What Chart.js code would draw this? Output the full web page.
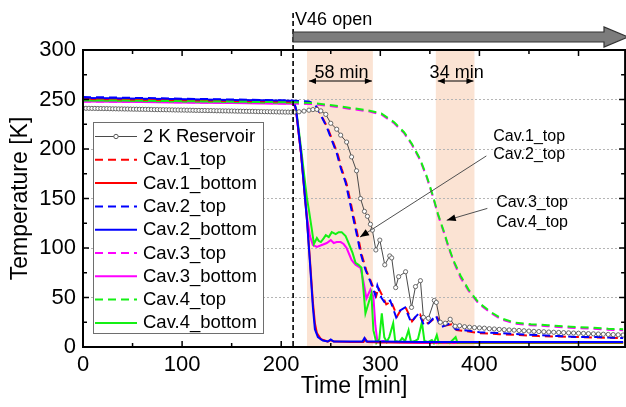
<!DOCTYPE html>
<html><head><meta charset="utf-8">
<script src="https://cdn.jsdelivr.net/npm/chart.js@4.4.1/dist/chart.umd.min.js"></script>
<style>html,body{margin:0;padding:0;overflow:hidden;background:#fff}canvas{display:block}</style>
</head><body>
<canvas id="c" width="630" height="407"></canvas>
<script>
const FAM = '"Liberation Sans", Arial, Helvetica, sans-serif';

// ---------------- data ----------------
const resTimes = [0,3,6,9,12,15,18,21,24,27,30,33,36,39,42,45,48,51,54,57,60,63,66,69,72,75,78,81,84,87,90,
  93,96,99,102,105,108,111,114,117,120,123,126,129,132,135,138,141,144,147,150,153,156,159,162,165,168,171,174,177,180,
  183,186,189,192,195,198,201,204,207,210,
  213,218,223,228,232,236,240,245,250,256,260,266,271,276,280,284,287,290,292,295.5,299.5,304.5,309.5,311.5,315.5,318.5,
  325.5,331.5,335.5,340.5,343.5,348.5,354.5,356.5,360.5,365.5,370.5,375.5,380,385,390,395,400,405,410,415,420,425,430,435,
  440,445,450,455,460,465,470,475,480,485,490,495,500,505,510,515,520,525,530,535,540,545];
const resValues = [241.2,241.1,241.1,241.0,241.0,240.9,240.9,240.8,240.8,240.7,240.6,
  240.6,240.5,240.5,240.4,240.4,240.3,240.2,240.2,240.1,240.1,
  240.0,240.0,239.9,239.8,239.8,239.7,239.7,239.6,239.6,239.5,
  239.4,239.4,239.3,239.3,239.2,239.2,239.1,239.0,239.0,238.9,
  238.9,238.8,238.8,238.7,238.6,238.6,238.5,238.5,238.4,238.4,
  238.3,238.2,238.2,238.1,238.1,238.0,238.0,237.9,237.8,237.8,
  237.7,237.7,237.6,237.6,237.5,237.4,237.4,237.3,237.3,237.2,
  237.2,237.6,238.3,239.2,239.8,240,238.5,235,226,220,214,207,192,178,150,137,132,124,118,98,108,83,92,90,60,71,
  76,40,61,67,30,29,47,45,25,24,28,21,21.5,20.5,20,19.6,19.3,19,18.5,18.2,17.8,17.5,17.2,17,
  16.7,16.4,16.1,15.8,15.6,15.4,15.1,14.9,14.7,14.5,14.3,14.1,13.9,13.7,13.5,13.3,13.1,12.9,12.7,12.5,12.3,12.1];

const c1TopTimes = [0,30,60,90,120,150,180,210,220,228,233,237,241,247,252,257,261,266,269,272,275,278,281,286,291,294,296,298,302,306,311,317,321,326,332,336,340,345,350,357,362,367,372,377,386,400,420,440,460,480,500,520,545];
const c1TopValues = [250,249.8,249.5,249,248.5,248,247.5,247,246.5,246,245,241,233,221,208,195,180,165,151,137,123,109,94,77,65,57,52,60,52,43,46,31,38,39,26,31,33,23,25,31,21,22,23,17,16,14,13,12,11,10.5,10,9.5,9];

const c1BotTimes = [0,30,60,90,120,150,180,210,213,215,220,226,229,232,234,236,240,247,250,253,270,283,285,287,300,340,400,460,545];
const c1BotValues = [250.5,250.2,249.8,249.4,249,248.6,248.2,247.8,247,239,195,128,88,45,24,14,8,5.5,7,5.5,5,5,8,5,4.5,4.5,4.5,4.5,4.5];

const c2TopTimes = [0,30,60,90,120,150,180,210,220,228,233,236,240,246,251,256,260,265,268,271,274,277,280,285,290,293,295,297,301,305,310,316,320,325,331,335,339,344,349,356,361,366,371,376,385,400,420,440,460,480,500,520,545];
const c2TopValues = [252.5,252,251.5,251,250.5,250,249.5,249,248.5,248,246,242,234,222,209,196,181,166,152,138,124,110,95,78,66,58,52,62,50,44,47,30,37,40,25,30,34,22,24,32,20,22,24,18,17,15,14,13,12,11,10,10,9];

const c2BotTimes = [0,30,60,90,120,150,180,210,213,215,220,226,229,232,234,237,242,247,250,253,270,282,284,286,300,340,400,460,545];
const c2BotValues = [251.5,251.2,250.8,250.4,250,249.6,249.2,248.8,248,240,196,128,85,40,18,10,6.5,5.5,7.5,5.5,5.5,5.5,9,5.5,5.5,5,5,5,5];

const c3TopTimes = [0,60,120,180,210,230,253,270,288,301,314,324,332,340,347,353,358,364,369,374,381,389,399,412,422,436,452,469,492,513,530,545];
const c3TopValues = [248,247.7,247,246.4,246,245.5,243,240.5,238,235,226,216,204,189,171,152,134,116,100,86,70,57,44,34,28,23.5,22,21,19.5,18.5,17.5,17];

const c3BotTimes = [0,30,60,90,120,150,180,210,213,215,220,226,229,232,236,241,246,250,253,256,260,263,266,271,275,280,283,286,290,293,295,297,300,303,310,320,340,400,545];
const c3BotValues = [248,247.7,247.4,247,246.7,246.4,246,245.7,245,238,196,132,112,103,101,103,105,108,105,106,106,104,100,88,83,80,66,49,58,51,22,6,5,6,5,4.5,4,4,4];

const c4TopTimes = [0,30,60,90,120,150,180,210,230,253,270,288,301,314,324,332,340,347,353,358,364,369,374,381,389,399,412,422,436,452,469,492,513,530,545];
const c4TopValues = [249,249,248.7,248.4,248.1,247.8,247.5,247.2,246.5,244,241.5,239,236,227,217,205,190,172,153,135,117,101,87,72,58,45,35,29,24.5,23,22,20.5,19.5,18.5,18];

const c4BotTimes = [0,30,60,90,120,150,180,210,213,215,220,226,228,231,233,236,238,240,243,245,248,251,255,258,261,265,268,272,275,278,281,283,285,288,291,293,296,299,301.5,304,306.5,309,313,315,319,322,325,328.5,331,335,338,342,344.5,348,352,354,357,359,365,370,376,378,400,450,500,545];
const c4BotValues = [249,248.7,248.4,248,247.7,247.4,247,246.7,246,241,201,150,138,118,104,110,107,106,110,113,111,116,114,116,116,112,105,95,85,83,80,58,34,44,54,17,4,8,34,10,5,10,24,6,5,9,6,17,5,6,8,25,6,5,7,4,12,4,5,4,10,4,4,4,4,4];

const seriesLabels = ['2 K Reservoir','Cav.1_top','Cav.1_bottom','Cav.2_top','Cav.2_bottom','Cav.3_top','Cav.3_bottom','Cav.4_top','Cav.4_bottom'];

const xTickValues = [0,100,200,300,400,500];
const xMinorTicks = [50,150,250,350,450];
const yMinorTicks = [25,75,125,175,225,275];

// shaded intervals and markers (minutes)
const bandStart = [226, 356];
const bandEnd = [292.5, 395];
const bandLabels = ['58 min', '34 min'];
const valveTime = 212;

// ---------------- build ----------------
const pts = (ts, vs) => ts.map((t, i) => ({x: t, y: vs[i]}));
const RED = '#ff0000', BLUE = '#0000ff', MAG = '#ff00ff', GRN = '#14f014';
const DASH = [8, 5];
function line(label, ts, vs, color, dashed, order) {
  return {label, data: pts(ts, vs), borderColor: color, backgroundColor: color, borderWidth: 2,
    borderDash: dashed ? DASH : [], pointRadius: 0, fill: false, order};
}
const datasets = [
  {label: seriesLabels[0], data: pts(resTimes, resValues), borderColor: '#4a4a4a', borderWidth: 1,
   pointRadius: 2.1, pointBackgroundColor: '#fff', pointBorderColor: '#5a5a5a', pointBorderWidth: 0.9, fill: false, order: 0},
  line(seriesLabels[1], c1TopTimes, c1TopValues, RED, true, 4),
  line(seriesLabels[2], c1BotTimes, c1BotValues, RED, false, 6),
  line(seriesLabels[3], c2TopTimes, c2TopValues, BLUE, true, 3),
  line(seriesLabels[4], c2BotTimes, c2BotValues, BLUE, false, 5),
  line(seriesLabels[5], c3TopTimes, c3TopValues, MAG, true, 2),
  line(seriesLabels[6], c3BotTimes, c3BotValues, MAG, false, 8),
  line(seriesLabels[7], c4TopTimes, c4TopValues, GRN, true, 1),
  line(seriesLabels[8], c4BotTimes, c4BotValues, GRN, false, 7),
];

function arrowHead(ctx, x1, y1, x2, y2, len, half) {
  const a = Math.atan2(y2 - y1, x2 - x1);
  ctx.beginPath();
  ctx.moveTo(x2, y2);
  ctx.lineTo(x2 - len * Math.cos(a) + half * Math.sin(a), y2 - len * Math.sin(a) - half * Math.cos(a));
  ctx.lineTo(x2 - len * Math.cos(a) - half * Math.sin(a), y2 - len * Math.sin(a) + half * Math.cos(a));
  ctx.closePath();
  ctx.fill();
}

const deco = {
  id: 'deco',
  beforeDraw(chart) {
    const {ctx, chartArea: a, scales: {x}} = chart;
    ctx.save();
    ctx.fillStyle = '#fff';
    ctx.fillRect(0, 0, chart.width, chart.height);
    ctx.fillStyle = '#fbe3d3';
    for (let i = 0; i < bandStart.length; i++) {
      const x0 = x.getPixelForValue(bandStart[i]), x1 = x.getPixelForValue(bandEnd[i]);
      ctx.fillRect(x0, a.top, x1 - x0, a.bottom - a.top);
    }
    ctx.restore();
  },
  afterDatasetsDraw(chart) {
    const {ctx, chartArea: a, scales: {x, y}} = chart;
    ctx.save();
    // valve line
    const vx = x.getPixelForValue(valveTime);
    ctx.strokeStyle = '#000'; ctx.lineWidth = 1.6; ctx.setLineDash([5, 3]);
    ctx.beginPath(); ctx.moveTo(vx, 13); ctx.lineTo(vx, a.bottom); ctx.stroke();
    ctx.setLineDash([]);

    // frame
    ctx.lineWidth = 2; ctx.strokeStyle = '#000';
    ctx.strokeRect(a.left, a.top, a.right - a.left, a.bottom - a.top);
    ctx.lineWidth = 1.5;
    ctx.beginPath();
    const xt = [...xTickValues.map(v => [v, 6]), ...xMinorTicks.map(v => [v, 4])];
    xt.forEach(([v, l]) => { const p = x.getPixelForValue(v);
      ctx.moveTo(p, a.bottom); ctx.lineTo(p, a.bottom - l);
      ctx.moveTo(p, a.top); ctx.lineTo(p, a.top + l); });
    const yt = [...y.ticks.map(t => [t.value, 6]), ...yMinorTicks.map(v => [v, 4])];
    yt.forEach(([v, l]) => { const p = y.getPixelForValue(v);
      ctx.moveTo(a.left, p); ctx.lineTo(a.left + l, p);
      ctx.moveTo(a.right, p); ctx.lineTo(a.right - l, p); });
    ctx.stroke();

    // valve arrow
    const ay = 37, x1 = vx, x2 = 628, hx = 604;
    ctx.fillStyle = '#7c7c7c'; ctx.strokeStyle = '#333'; ctx.lineWidth = 1.2;
    ctx.beginPath();
    ctx.moveTo(x1, ay - 5); ctx.lineTo(hx, ay - 5); ctx.lineTo(hx, ay - 10); ctx.lineTo(x2, ay);
    ctx.lineTo(hx, ay + 10); ctx.lineTo(hx, ay + 5); ctx.lineTo(x1, ay + 5); ctx.closePath();
    ctx.fill(); ctx.stroke();
    ctx.fillStyle = '#000';
    ctx.font = '18px ' + FAM; ctx.textBaseline = 'alphabetic'; ctx.textAlign = 'left';
    ctx.fillText('V46 open', vx + 2, 25);

    // interval arrows
    ctx.strokeStyle = '#000'; ctx.lineWidth = 1;
    for (let i = 0; i < bandStart.length; i++) {
      const b0 = x.getPixelForValue(bandStart[i]) + 2, b1 = x.getPixelForValue(bandEnd[i]) - 1;
      const yy = a.top + 31;
      ctx.beginPath(); ctx.moveTo(b0, yy); ctx.lineTo(b1, yy); ctx.stroke();
      arrowHead(ctx, b1, yy, b0, yy, 7, 3);
      arrowHead(ctx, b0, yy, b1, yy, 7, 3);
      ctx.textAlign = 'center'; ctx.font = '18px ' + FAM;
      ctx.fillText(bandLabels[i], (b0 + b1) / 2 + 1, a.top + 28);
    }

    // callouts
    ctx.font = '16px ' + FAM; ctx.textAlign = 'left'; ctx.textBaseline = 'middle';
    ctx.strokeStyle = '#505050'; ctx.fillStyle = '#000';
    const callouts = [
      {from: [407, 193], to: [279.5, 111], text: ['Cav.1_top', 'Cav.2_top'], tx: 414, ty: [213, 194]},
      {from: [408, 140], to: [367, 128], text: ['Cav.3_top', 'Cav.4_top'], tx: 417, ty: [145.5, 126]},
    ];
    callouts.forEach(cl => {
      const fx = x.getPixelForValue(cl.from[0]), fy = y.getPixelForValue(cl.from[1]);
      const tx = x.getPixelForValue(cl.to[0]), ty = y.getPixelForValue(cl.to[1]);
      ctx.beginPath(); ctx.moveTo(fx, fy); ctx.lineTo(tx, ty); ctx.stroke();
      arrowHead(ctx, fx, fy, tx, ty, 9, 3.5);
      cl.text.forEach((t, i) => ctx.fillText(t, x.getPixelForValue(cl.tx), y.getPixelForValue(cl.ty[i])));
    });
    ctx.restore();
  },
  afterDraw(chart) {
    const {ctx, chartArea: a} = chart;
    ctx.save();
    const lx = a.left + 10, ly = a.top + 72, lw = 170, lh = 211;
    ctx.fillStyle = '#fff'; ctx.fillRect(lx, ly, lw, lh);
    ctx.strokeStyle = '#6e6e6e'; ctx.lineWidth = 1;
    ctx.strokeRect(lx + 0.5, ly + 0.5, lw, lh);
    ctx.font = '18.5px ' + FAM; ctx.textBaseline = 'middle'; ctx.textAlign = 'left';
    chart.data.datasets.forEach((ds, i) => {
      const yy = ly + 14.5 + i * 23.3;
      const s0 = lx + 2, s1 = lx + 44;
      ctx.strokeStyle = ds.borderColor; ctx.lineWidth = ds.borderWidth;
      ctx.setLineDash(ds.borderDash || []);
      ctx.beginPath(); ctx.moveTo(s0, yy); ctx.lineTo(s1, yy); ctx.stroke();
      ctx.setLineDash([]);
      if (ds.pointRadius) {
        ctx.beginPath(); ctx.arc((s0 + s1) / 2, yy, 2.2, 0, Math.PI * 2);
        ctx.fillStyle = '#fff'; ctx.fill(); ctx.strokeStyle = ds.pointBorderColor; ctx.stroke();
      }
      ctx.fillStyle = '#000';
      ctx.fillText(ds.label, lx + 50, yy + 0.5);
    });
    ctx.restore();
  }
};

new Chart(document.getElementById('c'), {
  type: 'line',
  data: {datasets},
  options: {
    responsive: false, animation: false, devicePixelRatio: 1,
    layout: {padding: {top: 50, right: 3, left: 0, bottom: 0}},
    plugins: {legend: {display: false}, tooltip: {enabled: false}},
    elements: {line: {tension: 0}},
    scales: {
      x: {type: 'linear', min: 0, max: 547,
        ticks: {stepSize: 100, includeBounds: false, font: {family: FAM, size: 22}, color: '#000', padding: 5, maxRotation: 0},
        afterBuildTicks: s => { s.ticks = s.ticks.filter(t => xTickValues.includes(t.value)); },
        grid: {display: false, drawTicks: false},
        border: {display: false},
        title: {display: true, text: 'Time [min]', font: {family: FAM, size: 23}, color: '#000', padding: {top: 0, bottom: 7}},
        afterFit: s => { s.height = 60; }
      },
      y: {min: 0, max: 300,
        ticks: {stepSize: 50, font: {family: FAM, size: 22}, color: '#000', padding: 7},
        grid: {color: '#b5b5b5', lineWidth: 1, drawTicks: false},
        border: {display: false, dash: [2, 2]},
        title: {display: true, text: 'Temperature [K]', font: {family: FAM, size: 23}, color: '#000', padding: {top: 7, bottom: 0}},
        afterFit: s => { s.width = 83; }
      }
    }
  },
  plugins: [deco]
});
</script>
</body></html>
